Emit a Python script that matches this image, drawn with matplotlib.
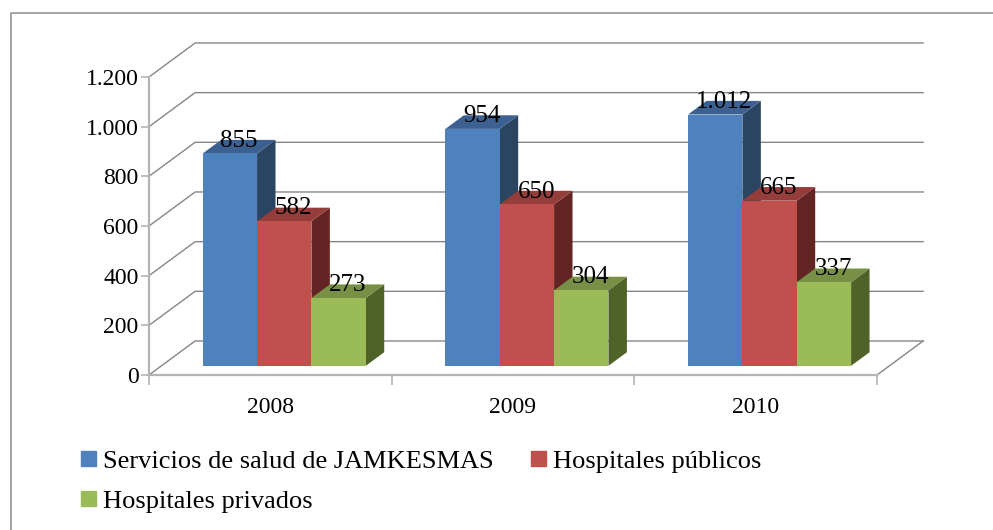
import matplotlib
matplotlib.use('Agg')
import matplotlib.pyplot as plt
from matplotlib.lines import Line2D
from matplotlib.patches import Patch
from matplotlib.ticker import FuncFormatter

years = ['2008', '2009', '2010']
series_names = ['Servicios de salud de JAMKESMAS', 'Hospitales públicos', 'Hospitales privados']
jamkesmas = [855, 954, 1012]
publicos = [582, 650, 665]
privados = [273, 304, 337]
y_ticks = [0, 200, 400, 600, 800, 1000, 1200]

front_colors = ['#4F81BD', '#C0504D', '#9BBB59']
top_colors = ['#3C6191', '#943D3B', '#779046']
side_colors = ['#2A4462', '#632523', '#4F6228']
GRID = '#868686'
AXIS = '#B4B4B4'

# fake 3D: depth 0 is the front plane, depth 1 the back wall
WALL_DX = 0.19  # category units
WALL_DY = 137   # value units
BAR_D0 = 0.27
BAR_D1 = 0.67
BAR_W = 0.224
GROUP_SHIFT = 0.006


def proj(x, v, d):
    return x + d * WALL_DX, v + d * WALL_DY


def face(ax, pts, color, z):
    xs = [p[0] for p in pts]
    ys = [p[1] for p in pts]
    ax.fill(xs, ys, color=color, lw=0, zorder=z, clip_on=False)


def bar3d(ax, x0, x1, v, i, z):
    # x0/x1 in category units, drawn from bottom of the floor up to v
    face(ax, [proj(x1, 0, BAR_D0), proj(x1, 0, BAR_D1), proj(x1, v, BAR_D1), proj(x1, v, BAR_D0)], side_colors[i], z)
    face(ax, [proj(x0, v, BAR_D0), proj(x1, v, BAR_D0), proj(x1, v, BAR_D1), proj(x0, v, BAR_D1)], top_colors[i], z)
    face(ax, [proj(x0, 0, BAR_D0), proj(x1, 0, BAR_D0), proj(x1, v, BAR_D0), proj(x0, v, BAR_D0)], front_colors[i], z)


plt.rcParams['font.family'] = ['Liberation Serif', 'DejaVu Serif']
plt.rcParams['font.size'] = 17

fig = plt.figure(figsize=(9.93, 5.30), dpi=100)
ax = fig.add_axes([149 / 993, 1 - 375 / 530, 728 / 993, 298 / 530])
ax.patch.set_visible(False)
ax.set_xlim(0, 3)
ax.set_ylim(0, 1200)

# outer frame, cut by the picture on the right and at the bottom
fig.add_artist(Line2D([10.5 / 993, 10.5 / 993, 1], [0, 1 - 13 / 530, 1 - 13 / 530], color='#8C8C8C', lw=1.1))

# walls and floor
for v in y_ticks:
    xs, ys = zip(proj(0, v, 0), proj(0, v, 1), proj(3, v, 1))
    ax.plot(xs, ys, color=GRID, lw=1, zorder=1, clip_on=False)
xs, ys = zip(proj(3, 0, 0), proj(3, 0, 1))
ax.plot(xs, ys, color=GRID, lw=1, zorder=1, clip_on=False)

values = [jamkesmas, publicos, privados]
for c in range(len(years)):
    left = c + 0.5 - 1.5 * BAR_W + GROUP_SHIFT
    for i, vals in enumerate(values):
        x0 = left + i * BAR_W
        x1 = x0 + BAR_W
        bar3d(ax, x0, x1, vals[c], i, 3 + c + i * 0.1)

for c in range(len(years)):
    left = c + 0.5 - 1.5 * BAR_W + GROUP_SHIFT
    for i, vals in enumerate(values):
        x_mid = left + (i + 0.5) * BAR_W
        lx = proj(x_mid, 0, (BAR_D0 + BAR_D1) / 2)[0]
        ly = proj(0, vals[c], BAR_D1)[1]
        ax.text(lx, ly - 3, f'{vals[c]:,}'.replace(',', '.'), ha='center', va='center', zorder=10,
                clip_on=False, fontsize=18)

for s in ['top', 'right']:
    ax.spines[s].set_visible(False)
for s in ['left', 'bottom']:
    ax.spines[s].set_color(AXIS)
    ax.spines[s].set_linewidth(1.6)
    ax.spines[s].set_zorder(2)

ax.set_yticks(y_ticks)
ax.yaxis.set_major_formatter(FuncFormatter(lambda v, p: f'{int(v):,}'.replace(',', '.')))
ax.set_xticks([0, 1, 2, 3])
ax.set_xticklabels([])
ax.set_xticks([0.5, 1.5, 2.5], labels=years, minor=True)
ax.tick_params(axis='x', which='major', length=7, color=AXIS, width=1.2)
ax.tick_params(axis='x', which='minor', length=0, pad=15.5)
ax.tick_params(axis='y', length=6, color=AXIS, width=1.2, pad=1.5)

# legend columns: the third entry wraps under the first one
handles = [Patch(color=front_colors[0], label=series_names[0]),
           Patch(color=front_colors[2], label=series_names[2]),
           Patch(color=front_colors[1], label=series_names[1])]
fig.legend(handles=handles, ncol=2, loc='upper left', bbox_to_anchor=(57.5 / 993, 1 - 427 / 530),
           frameon=False, fontsize=19, handlelength=0.57, handleheight=0.53, handletextpad=0.27,
           columnspacing=1.4, labelspacing=0.67)

plt.savefig('out.png', dpi=100)
